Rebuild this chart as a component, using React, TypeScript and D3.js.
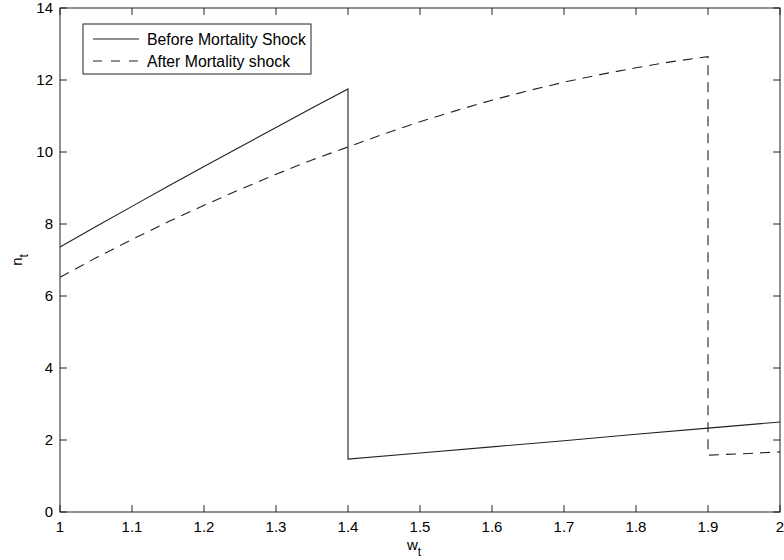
import React from "react";
import * as d3 from "d3";

// before shock: rises to the jump at w=1.4, then low branch
const beforeW = [1.0, 1.05, 1.1, 1.15, 1.2, 1.25, 1.3, 1.35, 1.4, 1.4, 1.5, 1.6, 1.7, 1.8, 1.9, 2.0];
const beforeN = [7.36, 7.93, 8.49, 9.05, 9.6, 10.14, 10.68, 11.22, 11.75, 1.47, 1.64, 1.81, 1.98, 2.16, 2.33, 2.5];

// after shock: concave rise to the jump at w=1.9
const afterW = [1.0, 1.05, 1.1, 1.15, 1.2, 1.25, 1.3, 1.35, 1.4, 1.45, 1.5, 1.55, 1.6, 1.65, 1.7, 1.75, 1.8, 1.85, 1.9, 1.9, 1.95, 2.0];
const afterN = [6.52, 7.06, 7.57, 8.06, 8.52, 8.96, 9.38, 9.78, 10.14, 10.5, 10.84, 11.15, 11.44, 11.7, 11.94, 12.15, 12.34, 12.51, 12.65, 1.58, 1.62, 1.67];

const xTicks = [1, 1.1, 1.2, 1.3, 1.4, 1.5, 1.6, 1.7, 1.8, 1.9, 2];
const yTicks = [0, 2, 4, 6, 8, 10, 12, 14];

const W = 784, H = 560;
const m = { left: 60, right: 4, top: 8, bottom: 48 };
const font = "'Liberation Sans', Arial, Helvetica, sans-serif";
const ink = "#222";

export default function App() {
  const x = d3.scaleLinear().domain([1, 2]).range([m.left, W - m.right]);
  const y = d3.scaleLinear().domain([0, 14]).range([H - m.bottom, m.top]);
  const line = d3.line<[number, number]>().x((d) => x(d[0])).y((d) => y(d[1]));

  const before = beforeW.map((w, i) => [w, beforeN[i]] as [number, number]);
  const after = afterW.map((w, i) => [w, afterN[i]] as [number, number]);

  const x0 = x.range()[0], x1 = x.range()[1];
  const y0 = y.range()[0], y1 = y.range()[1];
  const tk = 7;

  return (
    <svg width={W} height={H} style={{ position: "absolute", left: 0, top: 0, background: "#fff" }} fontFamily={font}>
      {/* plot box */}
      <rect x={x0} y={y1} width={x1 - x0} height={y0 - y1} fill="none" stroke={ink} strokeWidth={1} />
      {xTicks.map((t) => (
        <g key={"x" + t}>
          <line x1={x(t)} x2={x(t)} y1={y0} y2={y0 - tk} stroke={ink} />
          <line x1={x(t)} x2={x(t)} y1={y1} y2={y1 + tk} stroke={ink} />
          <text x={x(t)} y={y0 + 20} textAnchor="middle" fontSize={15} fill="#000">{d3.format("")(t)}</text>
        </g>
      ))}
      {yTicks.map((t) => (
        <g key={"y" + t}>
          <line x1={x0} x2={x0 + tk} y1={y(t)} y2={y(t)} stroke={ink} />
          <line x1={x1} x2={x1 - tk} y1={y(t)} y2={y(t)} stroke={ink} />
          <text x={x0 - 7} y={y(t) + 5} textAnchor="end" fontSize={15} fill="#000">{t}</text>
        </g>
      ))}

      <path d={line(before) || ""} fill="none" stroke={ink} strokeWidth={1.1} />
      <path d={line(after) || ""} fill="none" stroke={ink} strokeWidth={1.1} strokeDasharray="10,7" />

      {/* axis labels */}
      <text x={(x0 + x1) / 2 - 6} y={550} textAnchor="middle" fontSize={15} fill="#000">
        w<tspan fontSize={12} dy={6}>t</tspan>
      </text>
      <text transform={`translate(22,${(y0 + y1) / 2}) rotate(-90)`} textAnchor="middle" fontSize={15} fill="#000">
        n<tspan fontSize={12} dy={6}>t</tspan>
      </text>

      {/* legend */}
      <g>
        <rect x={83} y={24} width={228} height={50} fill="#fff" stroke={ink} />
        <line x1={93} x2={139} y1={39} y2={39} stroke={ink} strokeWidth={1.1} />
        <text x={147} y={44.5} fontSize={15.8} fill="#000">Before Mortality Shock</text>
        <line x1={93} x2={139} y1={61} y2={61} stroke={ink} strokeWidth={1.1} strokeDasharray="9,9" />
        <text x={147} y={66.5} fontSize={15.8} fill="#000">After Mortality shock</text>
      </g>
    </svg>
  );
}
